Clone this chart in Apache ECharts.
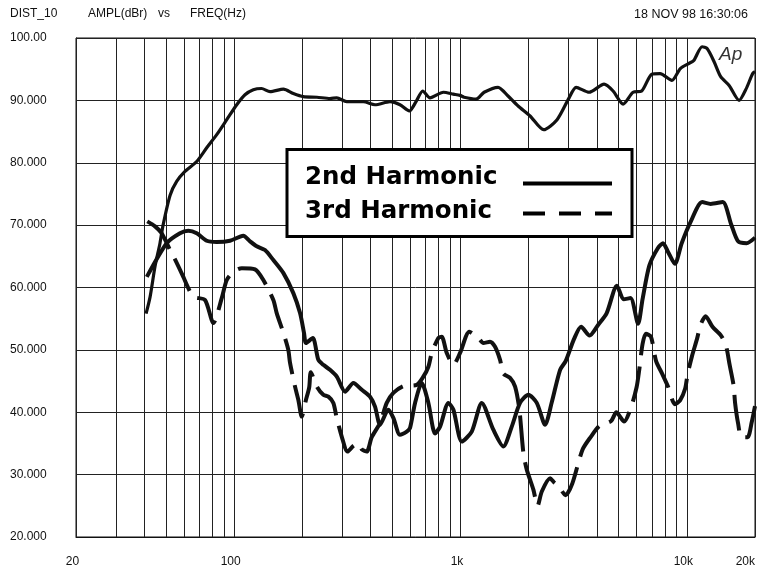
<!DOCTYPE html>
<html>
<head>
<meta charset="utf-8">
<script src="https://cdn.jsdelivr.net/npm/echarts@6/dist/echarts.min.js"></script>
<style>
  html, body { margin: 0; padding: 0; background: #fff; }
  #chart { width: 761px; height: 574px; }
</style>
</head>
<body>
<div id="chart"></div>
<script>
// grid lines and labels of the log frequency axis
const gridFreqs = [20, 30, 40, 50, 60, 70, 80, 90, 100, 200, 300, 400, 500, 600, 700, 800, 900,
  1000, 2000, 3000, 4000, 5000, 6000, 7000, 8000, 9000, 10000, 20000]
const labelFreqs = [20, 100, 1000, 10000, 20000]

// top trace (level)
const levelFreq = [40.8, 42.5, 44.7, 47, 48.5, 52.1, 55.7, 60.6, 68.3, 75.6, 83.7, 92.7, 102.6, 111.6,
  121.5, 132, 144, 165, 182.5, 202, 232, 265, 284, 314, 372, 419, 488, 540, 594, 636, 681, 733, 840,
  930, 995, 1037, 1171, 1271, 1465, 1622, 1796, 2029, 2330, 2670, 3017, 3240, 3698, 4308, 4720, 5227,
  5786, 6316, 6998, 7614, 8588, 9356, 10186, 10730, 11676, 12286, 13192, 14106, 15370, 17012, 18248,
  19536, 20000]
const levelDb = [55.8, 58.5, 63.4, 67.1, 70, 74.8, 77, 78.6, 80.2, 82.4, 84.5, 86.9, 89.3, 90.9,
  91.7, 91.9, 91.4, 91.8, 91.1, 90.6, 90.5, 90.3, 90.4, 89.8, 89.8, 89.3, 89.8, 89.3, 88.3, 89.8, 91.5,
  90.4, 91.3, 91.0, 90.8, 90.5, 90.2, 91.3, 92.1, 90.7, 89.1, 87.5, 85.3, 86.9, 90.4, 92.1, 91.3, 92.6,
  91.5, 89.4, 91.3, 91.5, 94.2, 94.3, 93.2, 95.1, 95.9, 96.4, 98.6, 98.3, 96.2, 93.8, 92.4, 90.0, 91.8,
  94.3, 94.6]

// 2nd harmonic (solid)
const h2Freq = [41.1, 50.3, 57.6, 62.7, 68.3, 75.6, 83.7, 95.8, 109.7, 117.5, 125.8, 136.8, 148.9,
  165, 182.5, 195.4, 203.5, 207.6, 222.4, 235.4, 247.6, 265, 284, 308.9, 336.2, 366.2, 398.4, 419, 441,
  479.8, 504.8, 540, 578.6, 598.4, 629.7, 674, 721, 771.6, 812, 883.8, 930, 1013, 1121, 1241, 1396,
  1546, 1684, 1832, 1994, 2172, 2364, 2530, 2754, 2914, 3178, 3410, 3716, 4053, 4424, 4906, 5258,
  5636, 6089, 6369, 6824, 7440, 7844, 8260, 8852, 9488, 10352, 11690, 12746, 14400, 15700, 16840,
  18362, 20000]
const h2Db = [61.7, 67.1, 68.7, 69.1, 68.7, 67.5, 67.3, 67.5, 68.3, 67.4, 66.6, 66.0, 64.4,
  62.3, 59.1, 55.9, 52.7, 51.1, 51.9, 48.4, 47.6, 46.8, 45.7, 43.3, 44.7, 43.6, 42.5, 40.9, 38.0,
  40.4, 39.1, 36.4, 36.9, 37.5, 41.5, 44.7, 41.5, 36.6, 37.7, 41.5, 40.4, 35.3, 36.9, 41.5, 37.2,
  34.5, 37.7, 41.5, 42.8, 41.5, 38.0, 41.6, 46.8, 48.2, 51.8, 53.7, 52.3, 54.0, 55.9, 60.3, 58.1,
  58.3, 54.2, 58.1, 63.5, 66.3, 67.1, 65.7, 63.8, 67.1, 70.4, 73.7, 73.4, 73.7, 70.1, 67.4,
  67.1, 68.0]

// 3rd harmonic (dashed)
const h3Freq = [41.3, 44.7, 47.8, 52.1, 55.3, 59.6, 62.7, 66.0, 74.3, 80.9, 88.1, 92.7, 99.1, 108,
  123.6, 134.5, 148.9, 154.1, 165, 173.4, 176.5, 185.7, 192, 198.8, 207.6, 214.5, 218, 232, 247.6,
  260.6, 274.2, 283.3, 298.6, 316.8, 336.2, 353.6, 367.2, 385.2, 405.2, 441, 472, 504.8, 559, 640.6,
  685, 721, 746.2, 798, 826, 869.2, 930, 995, 1094, 1199, 1262, 1350, 1421, 1495, 1546, 1655, 1742,
  1819, 1895, 1962, 2098, 2190, 2286, 2488, 2582, 2706, 2912, 3120, 3458, 3770, 4106, 4628, 4878,
  5280, 5670, 5996, 6150, 6369, 6590, 6940, 7312, 7772, 8260, 8852, 9334, 9830, 10064, 10534, 11096,
  11488, 12100, 12978, 14152, 14904, 15430, 16086, 16332, 16840, 17430, 18550, 19340, 20000]
const h3Db = [70.6, 69.8, 68.7, 66.0, 64.2, 61.7, 59.9, 58.5, 58.0, 54.3, 58.3, 61.2, 62.5, 63.1,
  62.9, 61.2, 58.0, 55.9, 52.7, 50.0, 47.9, 44.1, 42.0, 39.3, 42.0, 44.0, 46.4, 44.1, 42.8,
  42.5, 41.5, 39.2, 36.1, 33.7, 34.6, 35.0, 34.0, 33.7, 36.0, 38.3, 41.5, 43.1, 44.2, 44.4,
  45.7, 47.3, 49.5, 51.9, 52.1, 49.5, 47.6, 49.5, 52.9, 51.9, 51.1, 51.3, 50.5, 48.4, 46.2, 45.5, 44.1,
  40.5, 33.5, 30.8, 27.6, 25.0, 27.3, 29.4, 28.8, 28.2, 26.7, 28.6, 34.0, 36.1, 37.8, 38.6, 40.0,
  38.5, 40.8, 44.0, 46.6, 50.9, 52.6, 52.1, 48.2, 46.2, 44.1, 41.3, 41.9, 43.8, 46.0, 49.0, 51.8,
  54.0, 55.4, 53.7, 52.3, 50.6, 47.7, 44.3, 41.5, 38.2, 36.0, 36.0, 38.4, 41.0]

const zip = (xs, ys) => xs.map((x, i) => [x, ys[i]])

const txt = { fontFamily: 'Liberation Sans', fontSize: 12, fill: '#111' }
const lab = { fontFamily: 'Liberation Sans', fontSize: 12, color: '#111' }

const chart = echarts.init(document.getElementById('chart'), null, { renderer: 'canvas' })

chart.setOption({
  animation: false,
  backgroundColor: '#fff',
  grid: { left: 76, right: 6, top: 38, bottom: 37, show: true, borderColor: '#111', borderWidth: 1 },
  xAxis: {
    type: 'log',
    logBase: 10,
    min: 20,
    max: 20000,
    axisLine: { show: true, lineStyle: { color: '#111', width: 1 } },
    axisTick: {
      show: true,
      inside: true,
      length: 499,
      customValues: gridFreqs,
      lineStyle: { color: '#222', width: 1 },
    },
    axisLabel: {
      customValues: labelFreqs,
      margin: 19,
      ...lab,
      alignMaxLabel: 'right',
      formatter: (v) => {
        const r = Math.round(v)
        const s = r >= 1000 ? r / 1000 + 'k' : String(r)
        return r >= 20000 ? '{b|' + s + '}' : '{a|' + s + '}'
      },
      rich: {
        a: { ...lab, padding: [0, 7, 0, 0] },
        b: { ...lab, padding: [0, 0, 0, 0] },
      },
    },
    splitLine: { show: false },
  },
  yAxis: {
    type: 'value',
    min: 20,
    max: 100,
    interval: 10,
    axisLine: { show: true, lineStyle: { color: '#111', width: 1 } },
    axisTick: { show: false },
    axisLabel: {
      align: 'left',
      margin: 66,
      ...lab,
      padding: [2, 0, 0, 0],
      formatter: (v) => (v >= 100 ? v.toFixed(2) : v.toFixed(3)),
    },
    splitLine: { show: true, lineStyle: { color: '#222', width: 1 } },
  },
  series: [
    {
      name: 'Level',
      type: 'line',
      data: zip(levelFreq, levelDb),
      symbol: 'none',
      smooth: 0.25,
      lineStyle: { color: '#111', width: 3.2 },
    },
    {
      name: '2nd Harmonic',
      type: 'line',
      data: zip(h2Freq, h2Db),
      symbol: 'none',
      smooth: 0.25,
      lineStyle: { color: '#111', width: 4 },
    },
    {
      name: '3rd Harmonic',
      type: 'line',
      data: zip(h3Freq, h3Db),
      symbol: 'none',
      smooth: 0.25,
      lineStyle: { color: '#111', width: 4, type: [36, 11], cap: 'butt' },
    },
  ],
  graphic: [
    { type: 'text', x: 10, y: 8, style: { ...txt, text: 'DIST_10' } },
    { type: 'text', x: 88, y: 8, style: { ...txt, text: 'AMPL(dBr)' } },
    { type: 'text', x: 158, y: 8, style: { ...txt, text: 'vs' } },
    { type: 'text', x: 190, y: 8, style: { ...txt, text: 'FREQ(Hz)' } },
    { type: 'text', x: 748, y: 8, style: { ...txt, fontSize: 12.5, text: '18 NOV 98 16:30:06', align: 'right' } },
    {
      type: 'text', x: 719, y: 45, z: 10,
      style: { text: 'Ap', fontFamily: 'Liberation Sans', fontStyle: 'italic', fontSize: 19, fill: '#333' },
    },
    // legend box
    {
      type: 'rect', z: 20,
      shape: { x: 287, y: 149.5, width: 345, height: 87 },
      style: { fill: '#fff', stroke: '#000', lineWidth: 3 },
    },
    {
      type: 'text', x: 305, y: 190.5, z: 21,
      style: {
        text: '2nd Harmonic', fontFamily: 'DejaVu Sans', fontWeight: 'bold', fontSize: 24.5,
        fill: '#000', verticalAlign: 'bottom',
      },
    },
    {
      type: 'text', x: 305, y: 224, z: 21,
      style: {
        text: '3rd Harmonic', fontFamily: 'DejaVu Sans', fontWeight: 'bold', fontSize: 24.5,
        fill: '#000', verticalAlign: 'bottom',
      },
    },
    {
      type: 'line', z: 21,
      shape: { x1: 523, y1: 183.5, x2: 612, y2: 183.5 },
      style: { stroke: '#000', lineWidth: 4 },
    },
    {
      type: 'line', z: 21,
      shape: { x1: 523, y1: 213.5, x2: 612, y2: 213.5 },
      style: { stroke: '#000', lineWidth: 4, lineDash: [22, 14] },
    },
  ],
})
</script>
</body>
</html>
